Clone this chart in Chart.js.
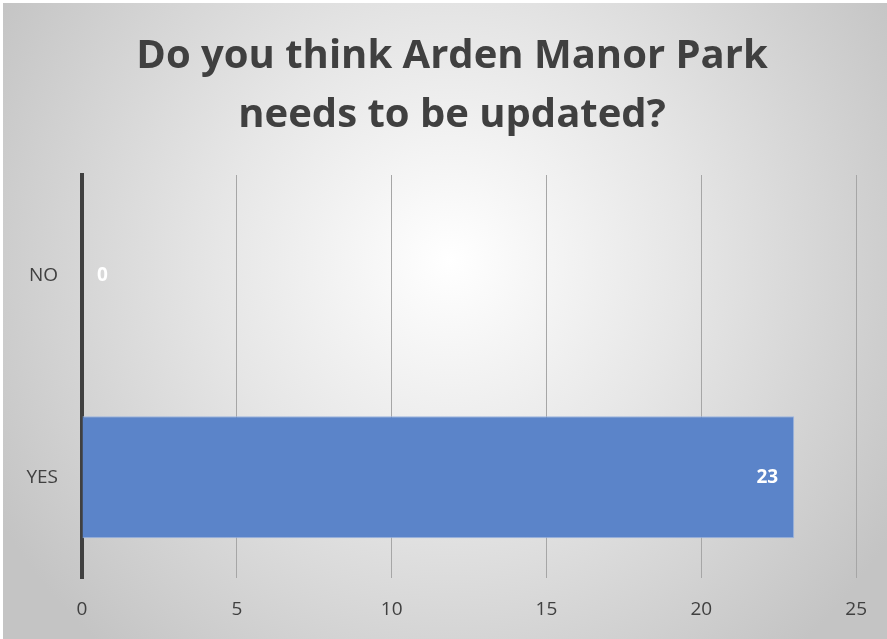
<!DOCTYPE html>
<html>
<head>
<meta charset="utf-8">
<script src="https://cdn.jsdelivr.net/npm/chart.js@4"></script>
<style>
  html, body { margin: 0; padding: 0; background: #fff; }
  #wrap { width: 887px; height: 639px; }
</style>
</head>
<body>
<div id="wrap"><canvas id="grafico"></canvas></div>
<script>
// dados do grafico
const categorias = ["NO", "YES"];
const respostas = [0, 23];
const ticksX = [0, 5, 10, 15, 20, 25];
const titulo = ["Do you think Arden Manor Park", "needs to be updated?"];

const fonte = "'Open Sans', Lato, sans-serif";

/* fundo com gradiente radial */
const fundo = {
  id: "fundo",
  beforeDraw(chart) {
    const c = chart.ctx;
    const w = chart.width, h = chart.height;
    c.save();
    c.fillStyle = "#ffffff";
    c.fillRect(0, 0, w, h);
    const g = c.createRadialGradient(450, 260, 0, 450, 260, 520);
    g.addColorStop(0, "#ffffff");
    g.addColorStop(0.45, "#e6e6e6");
    g.addColorStop(1, "#c4c4c4");
    c.fillStyle = g;
    c.fillRect(3, 3, w - 3, h - 3);
    c.restore();
  }
};

/* titulo centralizado no quadro inteiro (como no Excel) */
const tituloPlugin = {
  id: "tituloPlugin",
  afterDraw(chart) {
    const c = chart.ctx;
    c.save();
    c.font = "bold 40px " + fonte;
    c.fillStyle = "#404040";
    c.textAlign = "center";
    c.textBaseline = "middle";
    titulo.forEach((linha, i) => {
      c.fillText(linha, 452, 57 + i * 58.5);
    });
    c.restore();
  }
};

/* rotulos de valor dentro da barra */
const rotulos = {
  id: "rotulos",
  afterDatasetsDraw(chart) {
    const c = chart.ctx;
    const meta = chart.getDatasetMeta(0);
    c.save();
    c.font = "bold 19px " + fonte;
    c.fillStyle = "#ffffff";
    c.textBaseline = "middle";
    meta.data.forEach((bar, i) => {
      const txt = String(respostas[i]);
      const tw = c.measureText(txt).width;
      if (bar.x - bar.base > tw + 20) {
        c.textAlign = "right";
        c.fillText(txt, bar.x - 16, bar.y);
      } else {
        c.textAlign = "left";
        c.fillText(txt, bar.base + 15, bar.y);
      }
    });
    c.restore();
  }
};

const ctx = document.getElementById("grafico").getContext("2d");
new Chart(ctx, {
  type: "bar",
  data: {
    labels: categorias,
    datasets: [{
      data: respostas,
      backgroundColor: "#5b84c9",
      borderColor: "#9db5e0",
      borderWidth: 1,
      borderSkipped: "start",
      barPercentage: 0.606,
      categoryPercentage: 1
    }]
  },
  options: {
    indexAxis: "y",
    responsive: true,
    maintainAspectRatio: false,
    animation: false,
    layout: { padding: { left: 0, right: 30, top: 175, bottom: 0 } },
    plugins: {
      legend: { display: false },
      tooltip: { enabled: false },
      title: { display: false }
    },
    scales: {
      x: {
        min: 0,
        max: 25,
        afterBuildTicks(axis) { axis.ticks = ticksX.map(v => ({ value: v })); },
        afterFit(axis) { axis.height = 61; },
        grid: { color: "#a6a6a6", lineWidth: 1, drawTicks: false },
        border: { display: false },
        ticks: { color: "#404040", padding: 20, font: { family: fonte, size: 19 } }
      },
      y: {
        afterFit(axis) { axis.width = 82; },
        grid: { display: false, drawTicks: false },
        border: { display: true, color: "#404040", width: 4 },
        ticks: { color: "#404040", padding: 24, font: { family: fonte, size: 19 } }
      }
    }
  },
  plugins: [fundo, tituloPlugin, rotulos]
});
</script>
</body>
</html>
